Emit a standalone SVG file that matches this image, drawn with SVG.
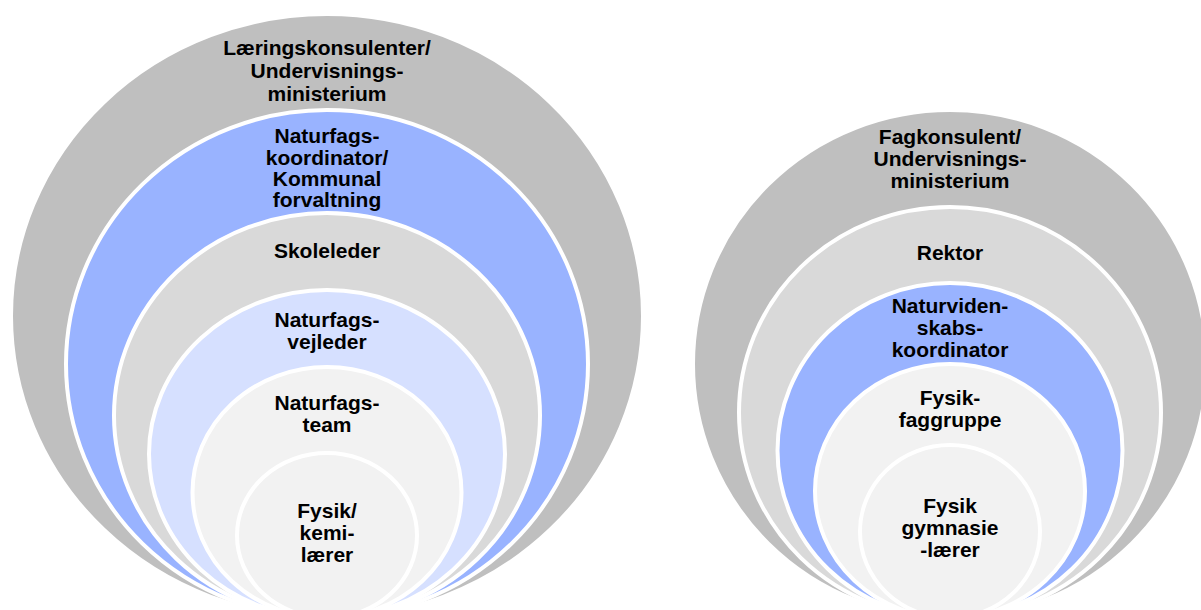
<svg xmlns="http://www.w3.org/2000/svg" width="1201" height="610" viewBox="0 0 1201 610">
<style>
.r{stroke:#fff;stroke-width:4}
.t{font-family:"Liberation Sans",Arial,sans-serif;font-weight:bold;font-size:21px;fill:#000;text-anchor:middle}
</style>
<rect width="1201" height="610" fill="#fff"/>
<g id="left">
<g id="l1"><ellipse class="r" cx="327" cy="316" rx="316" ry="302" fill="#BFBFBF"/>
<text class="t" x="327" y="55">Læringskonsulenter/</text><text class="t" x="327" y="78">Undervisnings-</text><text class="t" x="327" y="101">ministerium</text></g>
<g id="l2"><ellipse class="r" cx="327" cy="364" rx="261" ry="254" fill="#99B3FF"/>
<text class="t" x="327" y="143">Naturfags-</text><text class="t" x="327" y="165">koordinator/</text><text class="t" x="327" y="186">Kommunal</text><text class="t" x="327" y="207">forvaltning</text></g>
<g id="l3"><ellipse class="r" cx="327" cy="415.5" rx="213" ry="202.5" fill="#D9D9D9"/>
<text class="t" x="327" y="258">Skoleleder</text></g>
<g id="l4"><ellipse class="r" cx="327" cy="454" rx="178" ry="164" fill="#D6E0FF"/>
<text class="t" x="327" y="327">Naturfags-</text><text class="t" x="327" y="349">vejleder</text></g>
<g id="l5"><ellipse class="r" cx="327" cy="492.5" rx="134.5" ry="125.5" fill="#F2F2F2"/>
<text class="t" x="327" y="410">Naturfags-</text><text class="t" x="327" y="432">team</text></g>
<g id="l6"><ellipse class="r" cx="327" cy="535.5" rx="90" ry="82.5" fill="#F2F2F2"/>
<text class="t" x="327" y="518">Fysik/</text><text class="t" x="327" y="540">kemi-</text><text class="t" x="327" y="562">lærer</text></g>
</g>
<g id="right">
<g id="r1"><ellipse class="r" cx="950" cy="364" rx="257" ry="254" fill="#BFBFBF"/>
<text class="t" x="950" y="144">Fagkonsulent/</text><text class="t" x="950" y="166">Undervisnings-</text><text class="t" x="950" y="188">ministerium</text></g>
<g id="r2"><ellipse class="r" cx="950" cy="412.5" rx="211" ry="205.5" fill="#D9D9D9"/>
<text class="t" x="950" y="260">Rektor</text></g>
<g id="r3"><ellipse class="r" cx="950" cy="450.5" rx="172.5" ry="167.5" fill="#99B3FF"/>
<text class="t" x="950" y="313">Naturviden-</text><text class="t" x="950" y="335">skabs-</text><text class="t" x="950" y="357">koordinator</text></g>
<g id="r4"><ellipse class="r" cx="950" cy="491" rx="135" ry="127" fill="#F2F2F2"/>
<text class="t" x="950" y="405">Fysik-</text><text class="t" x="950" y="427">faggruppe</text></g>
<g id="r5"><ellipse class="r" cx="950" cy="531.5" rx="90" ry="86.5" fill="#F2F2F2"/>
<text class="t" x="950" y="513">Fysik</text><text class="t" x="950" y="535">gymnasie</text><text class="t" x="950" y="557">-lærer</text></g>
</g>
<g id="connectors"/>
</svg>
